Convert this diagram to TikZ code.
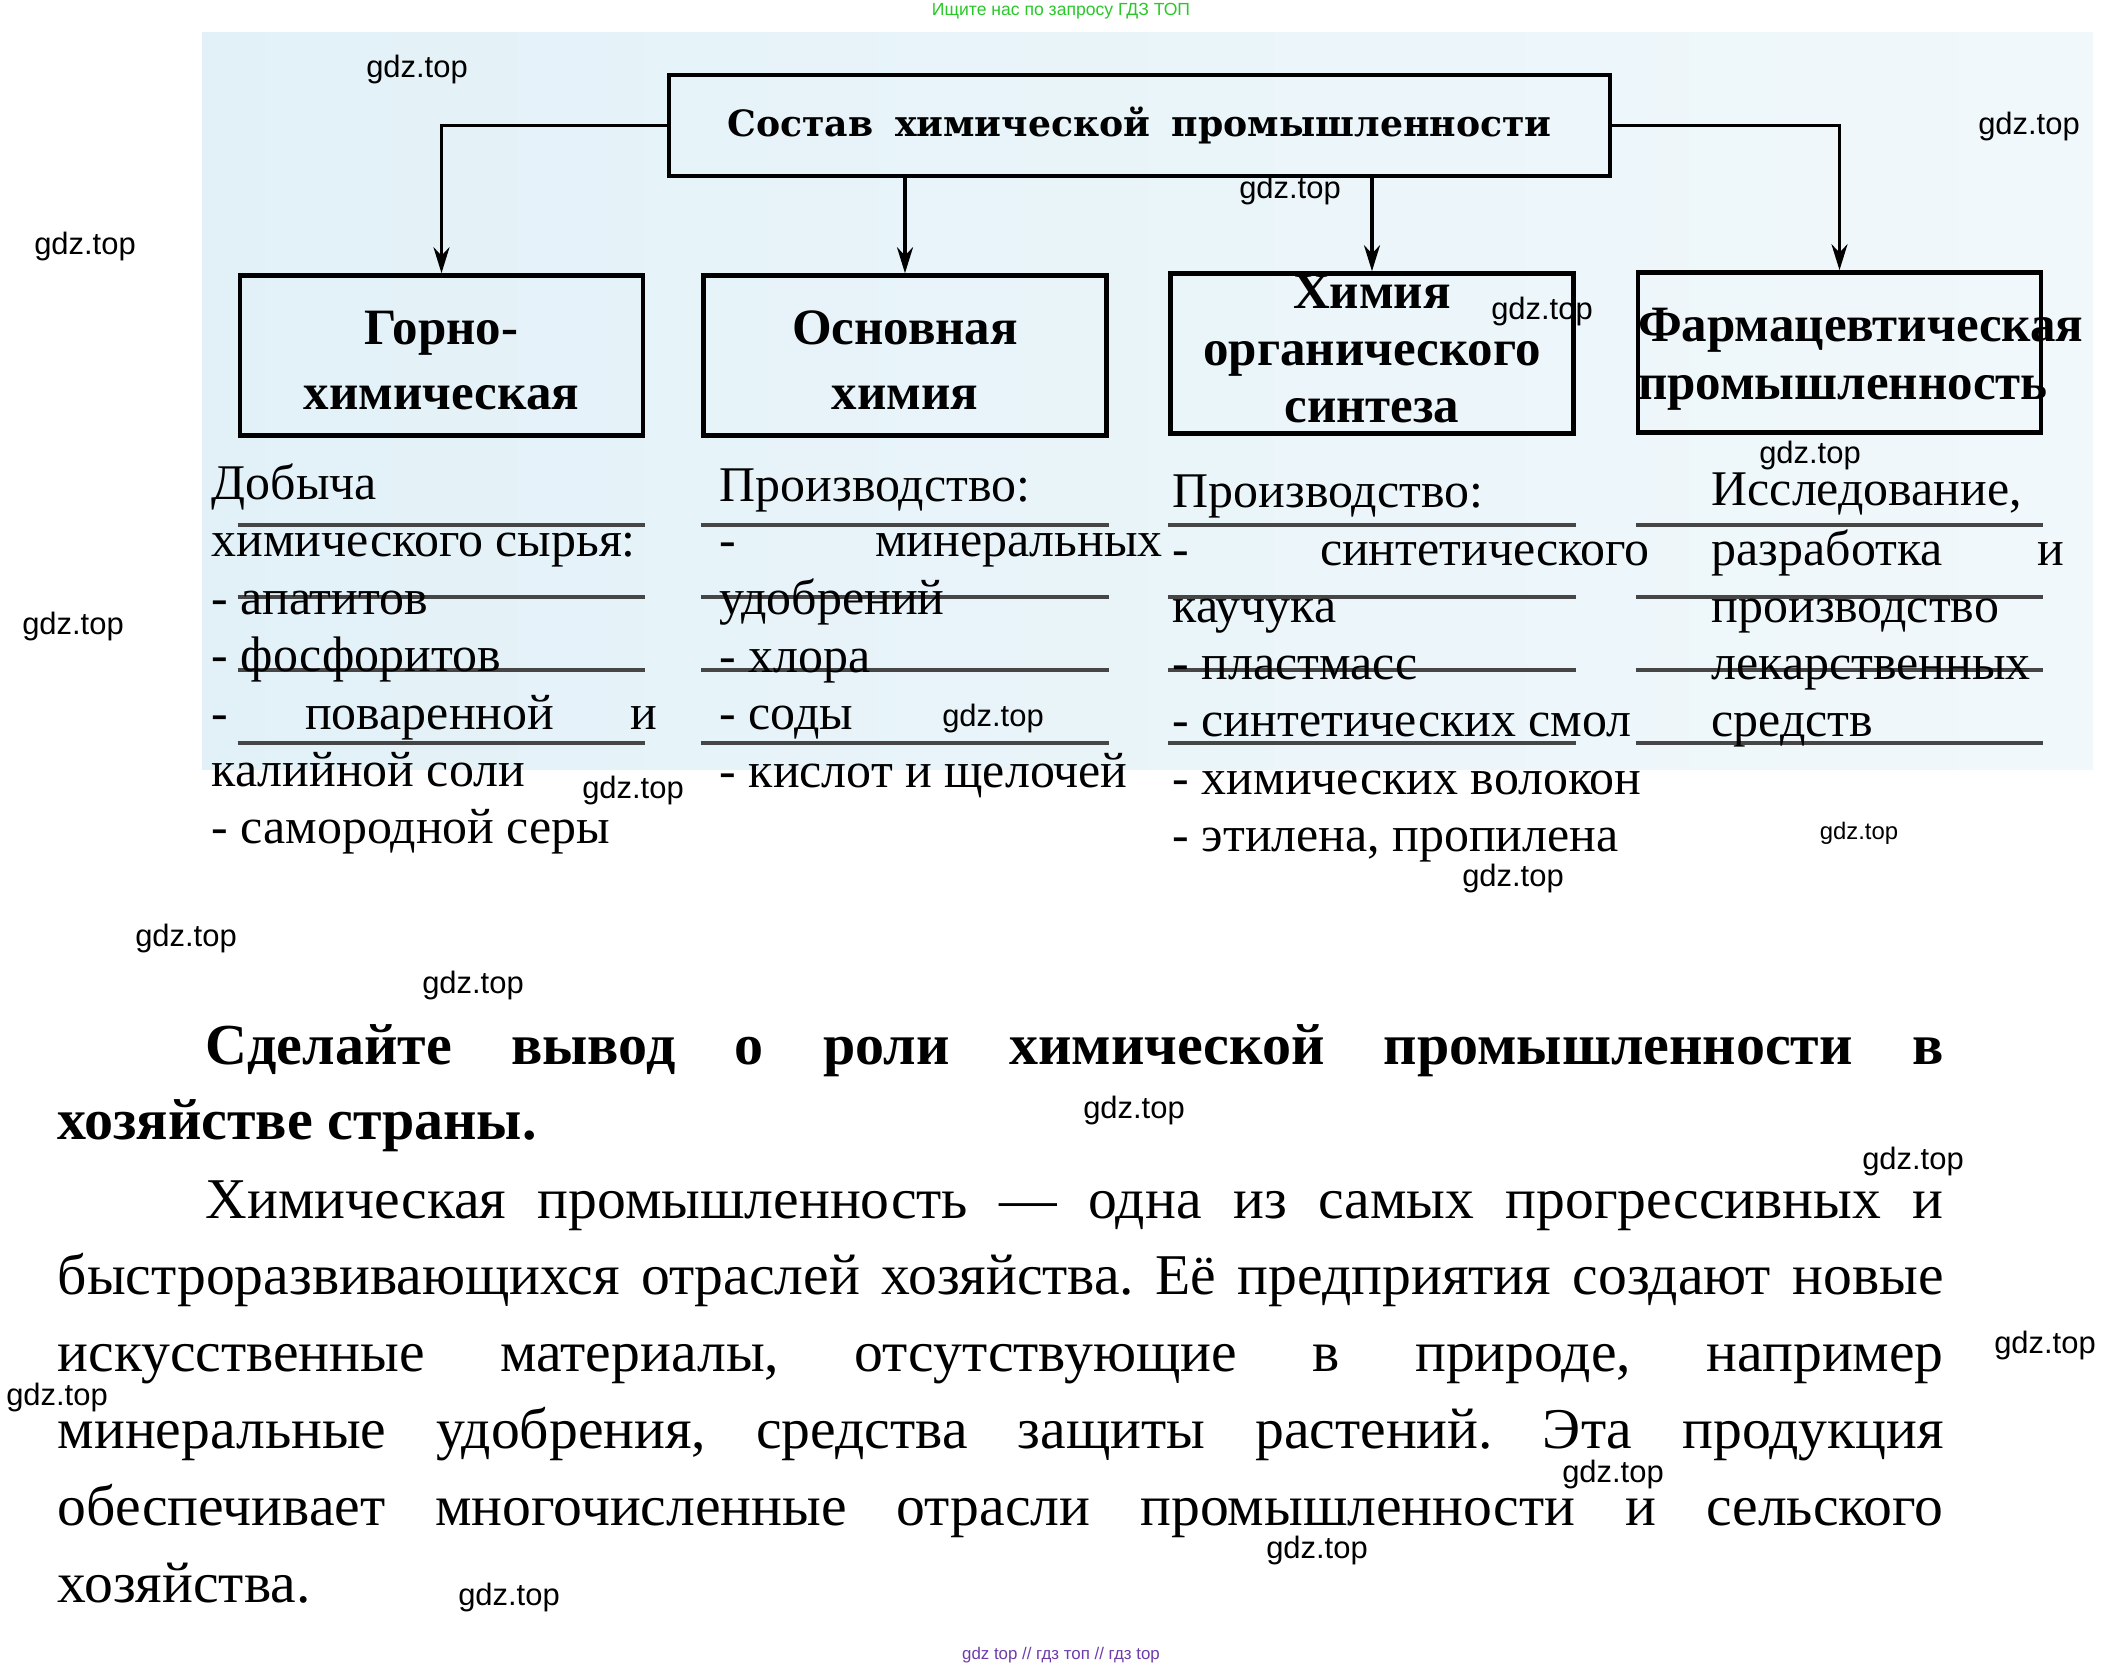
\documentclass[tikz,border=0pt]{standalone}
\usepackage{fontspec}
\setmainfont{Liberation Serif}
\setsansfont{Liberation Sans}
\newfontfamily\titlefont{DejaVu Serif}
\usetikzlibrary{arrows.meta}
\frenchspacing

\definecolor{pageblue}{RGB}{226,241,248}
\definecolor{pagebluer}{RGB}{241,248,251}
\definecolor{ulinegray}{RGB}{70,70,70}
\definecolor{wmgreen}{RGB}{40,200,40}
\definecolor{wmpurple}{RGB}{110,60,170}

\tikzset{
  headbox/.style={draw, line width=1.2pt, minimum width=9.41cm, minimum height=1.01cm, inner sep=0pt,
    font=\titlefont\bfseries\fontsize{10.3}{12}\selectfont},
  branch/.style={draw, line width=1.3pt, text width=4.03cm, minimum height=1.6cm, inner sep=0pt,
    align=center, font=\bfseries\fontsize{14.5}{18.5}\selectfont},
  colline/.style={anchor=base west, inner sep=0pt, font=\fontsize{14.2}{16}\selectfont},
  bodyline/.style={anchor=base west, inner sep=0pt, font=\fontsize{16.4}{19}\selectfont},
  blank/.style={draw=ulinegray, line width=0.9pt},
  wm/.style={inner sep=0pt, font=\sffamily\fontsize{8.8}{10}\selectfont},
}

\begin{document}
\begin{tikzpicture}[x=0.1mm, y=-0.1mm, >={Stealth[length=2.6mm, width=1.6mm]}]
\useasboundingbox (0,0) rectangle (2124,1671);
\shade[left color=pageblue, right color=pagebluer] (202,33) rectangle (2093,770);

% scheme
\node[headbox] (sostav) at (1139.5,125.5) {\hbox to 8.24cm{Состав химической промышленности}};
\node[branch] (gorno) at (441.5,355.5) {\rule{0pt}{0.44cm}Горно-\\химическая};
\node[branch] (osnov) at (905,355.5) {\rule{0pt}{0.44cm}Основная\\химия};
\node[branch, font=\bfseries\fontsize{14.5}{16.2}\selectfont] (orgsint) at (1372,353.5) {Химия\\органического\\синтеза\rule[-0.09cm]{0pt}{0.09cm}};
\node[branch, font=\bfseries\fontsize{14.5}{16.5}\selectfont] (farma) at (1839.5,352.5) {\rule{0pt}{0.46cm}Фармацевтическая\\промышленность};
\draw[->, line width=1pt] (sostav.west) -| (gorno.north);
\draw[->, line width=1pt] (sostav.south -| osnov.north) -- (osnov.north);
\draw[->, line width=1pt] (sostav.south -| orgsint.north) -- (orgsint.north);
\draw[->, line width=1pt] (sostav.east) -| (farma.north);

% blanks of the workbook
\foreach \b in {gorno,osnov,orgsint,farma}
  \foreach \y in {525,597,670,743}
    \draw[blank] (\b.west |- 0,\y) -- (\b.east |- 0,\y);

% column 1
\node[colline] (g1) at (211,500) {Добыча};
\node[colline] (g2) at (211,557) {химического сырья:};
\node[colline] (g3) at (211,615) {- апатитов};
\node[colline] (g4) at (211,672) {- фосфоритов};
\node[colline] (g5) at (211,730) {\hbox to 4.46cm{- поваренной и}};
\node[colline] (g6) at (211,787) {калийной соли};
\node[colline] (g7) at (211,844) {- самородной серы};

% column 2
\node[colline] (o1) at (719,502) {Производство:};
\node[colline] (o2) at (719,557) {\hbox to 4.43cm{- минеральных}};
\node[colline] (o3) at (719,615) {удобрений};
\node[colline] (o4) at (719,673) {- хлора};
\node[colline] (o5) at (719,730) {- соды};
\node[colline] (o6) at (719,788) {- кислот и щелочей};

% column 3
\node[colline] (s1) at (1172,508) {Производство:};
\node[colline] (s2) at (1172,566) {\hbox to 4.77cm{- синтетического}};
\node[colline] (s3) at (1172,623) {каучука};
\node[colline] (s4) at (1172,680) {- пластмасс};
\node[colline] (s5) at (1172,737) {- синтетических смол};
\node[colline] (s6) at (1172,795) {- химических волокон};
\node[colline] (s7) at (1172,852) {- этилена, пропилена};

% column 4
\node[colline] (f1) at (1711,506) {Исследование,};
\node[colline] (f2) at (1711,566) {\hbox to 3.52cm{разработка и}};
\node[colline] (f3) at (1711,623) {производство};
\node[colline] (f4) at (1711,680) {лекарственных};
\node[colline] (f5) at (1711,737) {средств};

% conclusion
\node[bodyline, font=\bfseries\fontsize{16.5}{19}\selectfont] (vyvod1) at (205,1065) {\hbox to 17.38cm{Сделайте вывод о роли химической промышленности в}};
\node[bodyline, font=\bfseries\fontsize{16.5}{19}\selectfont] (vyvod2) at (57,1140) {хозяйстве страны.};
\node[bodyline] (otv1) at (205,1219) {\hbox to 17.38cm{Химическая промышленность — одна из самых прогрессивных и}};
\node[bodyline] (otv2) at (57,1295) {\hbox to 18.86cm{быстроразвивающихся отраслей хозяйства. Её предприятия создают новые}};
\node[bodyline] (otv3) at (57,1372) {\hbox to 18.86cm{искусственные материалы, отсутствующие в природе, например}};
\node[bodyline] (otv4) at (57,1449) {\hbox to 18.86cm{минеральные удобрения, средства защиты растений. Эта продукция}};
\node[bodyline] (otv5) at (57,1526) {\hbox to 18.86cm{обеспечивает многочисленные отрасли промышленности и сельского}};
\node[bodyline] (otv6) at (57,1603) {хозяйства.};

% site marks
\node[inner sep=0pt, text=wmgreen, font=\sffamily\fontsize{5}{6}\selectfont] (poisk) at (1061,11) {Ищите нас по запросу ГДЗ ТОП};
\node[inner sep=0pt, text=wmpurple, font=\sffamily\fontsize{4.8}{6}\selectfont] (podval) at (1061,1655) {gdz top // гдз топ // гдз top};
\node[wm] (w1) at (417,70) {gdz.top};
\node[wm] (w2) at (2029,127) {gdz.top};
\node[wm] (w3) at (85,247) {gdz.top};
\node[wm] (w4) at (1290,191) {gdz.top};
\node[wm] (w5) at (1542,312) {gdz.top};
\node[wm] (w6) at (1810,456) {gdz.top};
\node[wm] (w7) at (73,627) {gdz.top};
\node[wm] (w8) at (993,719) {gdz.top};
\node[wm] (w9) at (633,791) {gdz.top};
\node[wm, font=\sffamily\fontsize{6.8}{8}\selectfont] (w10) at (1859,833) {gdz.top};
\node[wm] (w11) at (1513,879) {gdz.top};
\node[wm] (w12) at (186,939) {gdz.top};
\node[wm] (w13) at (473,986) {gdz.top};
\node[wm] (w14) at (1134,1111) {gdz.top};
\node[wm] (w15) at (1913,1162) {gdz.top};
\node[wm] (w16) at (2045,1346) {gdz.top};
\node[wm] (w17) at (57,1398) {gdz.top};
\node[wm] (w18) at (1613,1475) {gdz.top};
\node[wm] (w19) at (1317,1551) {gdz.top};
\node[wm] (w20) at (509,1598) {gdz.top};
\end{tikzpicture}
\end{document}
